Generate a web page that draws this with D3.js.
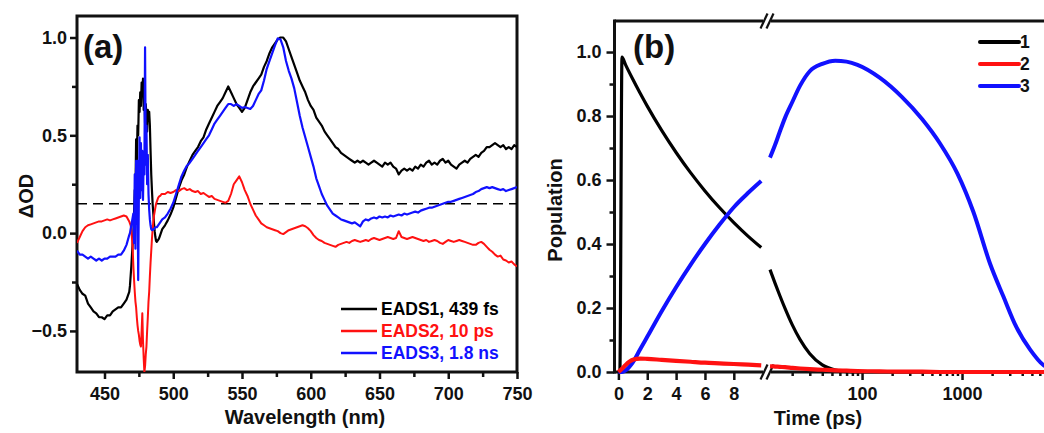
<!DOCTYPE html>
<html>
<head>
<meta charset="utf-8">
<script src="https://cdn.jsdelivr.net/npm/d3@7"></script>
<style>
  html, body { margin: 0; padding: 0; background: #fff; }
  svg { display: block; }
</style>
</head>
<body>
<svg id="chart" width="1044" height="433"></svg>
<script>
// ---------------- Panel (a): evolution-associated difference spectra ----------------
const wavelengths = [
  430,432,434,436,438,440,442,444,446,448,
  450,452,454,456,458,460,462,464,466,468,
  468.5,469,469.5,470,470.5,471,471.5,472,472.5,473,
  473.5,474,474.5,475,475.5,476,476.5,477,477.5,478,
  478.5,479,479.5,480,480.5,481,481.5,482,482.5,483,
  483.5,484,484.5,485,485.5,486,486.5,487,487.5,488,
  488.5,489,489.5,490,490.5,491,491.5,492,
  494,496,498,500,502,504,506,508,510,512,
  514,516,518,520,522,524,526,528,530,532,
  534,536,538,540,542,544,546,548,550,552,
  554,556,558,560,562,564,566,568,570,572,
  574,576,578,580,582,584,586,588,590,592,
  594,596,598,600,602,604,606,608,610,612,
  614,616,618,620,622,624,626,628,630,632,
  634,636,638,640,642,644,646,648,650,652,
  654,656,658,660,662,664,666,668,670,672,
  674,676,678,680,682,684,686,688,690,692,
  694,696,698,700,702,704,706,708,710,712,
  714,716,718,720,722,724,726,728,730,732,
  734,736,738,740,742,744,746,748,750
];

const eads1 = [
  -0.26,-0.29,-0.31,-0.32,-0.36,-0.38,-0.40,-0.41,-0.43,-0.43,
  -0.44,-0.42,-0.42,-0.40,-0.39,-0.38,-0.38,-0.36,-0.34,-0.30,
  -0.27,-0.22,-0.17,-0.11,-0.05,0.00,0.10,0.22,0.20,0.48,
  0.36,0.55,0.50,0.68,0.62,0.72,0.65,0.77,0.70,0.79,
  0.63,0.70,0.56,0.66,0.60,0.52,0.63,0.60,0.62,0.55,
  0.42,0.30,0.22,0.15,0.10,0.05,0.01,-0.02,-0.04,-0.045,
  -0.04,-0.035,-0.03,-0.02,-0.01,0.00,0.01,0.02,
  0.04,0.065,0.095,0.13,0.18,0.23,0.27,0.30,0.34,0.37,
  0.40,0.42,0.44,0.47,0.49,0.53,0.56,0.59,0.62,0.65,
  0.67,0.69,0.72,0.75,0.72,0.69,0.66,0.64,0.62,0.64,
  0.68,0.72,0.75,0.77,0.79,0.81,0.85,0.88,0.92,0.95,
  0.97,0.99,1.00,1.00,0.98,0.94,0.90,0.86,0.82,0.78,
  0.75,0.72,0.68,0.65,0.63,0.59,0.57,0.55,0.52,0.50,
  0.48,0.46,0.44,0.43,0.41,0.40,0.39,0.38,0.37,0.36,
  0.37,0.36,0.37,0.36,0.35,0.36,0.37,0.36,0.35,0.34,
  0.36,0.35,0.36,0.34,0.33,0.30,0.32,0.33,0.32,0.33,
  0.32,0.34,0.33,0.35,0.34,0.36,0.37,0.35,0.36,0.35,
  0.37,0.38,0.36,0.37,0.35,0.34,0.33,0.35,0.36,0.37,
  0.36,0.38,0.39,0.40,0.39,0.41,0.42,0.44,0.44,0.45,
  0.46,0.45,0.44,0.45,0.43,0.44,0.43,0.45,0.44
];

const eads2 = [
  -0.05,-0.02,0.01,0.03,0.04,0.045,0.05,0.055,0.06,0.06,
  0.065,0.07,0.065,0.07,0.075,0.08,0.085,0.09,0.085,0.06,
  0.05,0.04,0.02,-0.03,-0.08,-0.17,-0.24,-0.30,-0.35,-0.38,
  -0.43,-0.47,-0.50,-0.52,-0.55,-0.57,-0.58,-0.50,-0.41,-0.55,
  -0.64,-0.71,-0.68,-0.62,-0.58,-0.50,-0.43,-0.35,-0.30,-0.22,
  -0.15,-0.09,-0.03,0.02,0.06,0.09,0.11,0.13,0.15,0.16,
  0.17,0.18,0.185,0.19,0.19,0.195,0.20,0.20,
  0.20,0.21,0.205,0.21,0.22,0.215,0.225,0.23,0.22,0.225,
  0.215,0.21,0.215,0.20,0.205,0.195,0.185,0.19,0.175,0.17,
  0.165,0.16,0.155,0.165,0.20,0.25,0.27,0.29,0.26,0.22,
  0.19,0.15,0.12,0.09,0.07,0.05,0.04,0.03,0.025,0.02,
  0.015,0.01,0.00,-0.005,0.005,0.015,0.02,0.025,0.03,0.035,
  0.04,0.035,0.025,0.01,-0.01,-0.025,-0.035,-0.04,-0.05,-0.055,
  -0.06,-0.065,-0.07,-0.06,-0.055,-0.05,-0.045,-0.05,-0.04,-0.035,
  -0.04,-0.045,-0.04,-0.035,-0.04,-0.03,-0.025,-0.03,-0.035,-0.03,
  -0.025,-0.02,-0.025,-0.03,-0.025,0.01,-0.02,-0.025,-0.03,-0.025,
  -0.02,-0.025,-0.03,-0.035,-0.04,-0.035,-0.045,-0.04,-0.035,-0.04,
  -0.05,-0.055,-0.045,-0.035,-0.04,-0.045,-0.04,-0.035,-0.04,-0.045,
  -0.05,-0.055,-0.06,-0.06,-0.05,-0.045,-0.055,-0.07,-0.085,-0.095,
  -0.11,-0.12,-0.115,-0.135,-0.14,-0.15,-0.145,-0.16,-0.17
];

const eads3 = [
  -0.09,-0.11,-0.11,-0.12,-0.13,-0.12,-0.13,-0.14,-0.13,-0.14,
  -0.13,-0.13,-0.12,-0.12,-0.12,-0.11,-0.11,-0.09,-0.06,-0.01,
  0.00,0.02,0.04,0.06,0.08,0.10,-0.05,0.30,-0.08,0.37,
  0.05,0.37,-0.24,0.20,0.49,0.18,0.46,0.22,0.42,0.17,
  0.40,0.30,0.95,0.35,0.55,0.25,0.40,0.20,0.12,0.07,
  0.04,0.02,0.015,0.015,0.02,0.02,0.025,0.03,0.03,0.03,
  0.035,0.04,0.045,0.05,0.055,0.06,0.065,0.07,
  0.08,0.10,0.125,0.155,0.20,0.245,0.29,0.32,0.345,0.36,
  0.38,0.40,0.42,0.44,0.46,0.48,0.50,0.53,0.56,0.58,
  0.60,0.62,0.64,0.66,0.66,0.65,0.66,0.65,0.64,0.645,
  0.64,0.635,0.65,0.68,0.71,0.73,0.78,0.84,0.88,0.92,
  0.96,0.995,0.99,0.95,0.88,0.83,0.79,0.74,0.67,0.60,
  0.54,0.49,0.44,0.39,0.34,0.28,0.24,0.20,0.17,0.14,
  0.12,0.10,0.09,0.08,0.07,0.065,0.06,0.055,0.05,0.055,
  0.045,0.035,0.06,0.07,0.065,0.075,0.08,0.075,0.085,0.08,
  0.085,0.08,0.09,0.085,0.09,0.095,0.09,0.10,0.095,0.10,
  0.105,0.11,0.105,0.115,0.12,0.125,0.13,0.13,0.135,0.14,
  0.145,0.15,0.155,0.16,0.16,0.165,0.17,0.175,0.18,0.185,
  0.19,0.195,0.20,0.21,0.215,0.225,0.23,0.235,0.23,0.235,
  0.23,0.225,0.22,0.225,0.215,0.22,0.225,0.23,0.235
];

const spectraNames = ["EADS1, 439 fs", "EADS2, 10 ps", "EADS3, 1.8 ns"];
const dashedLevel = 0.15;
const wlTicks = [450, 500, 550, 600, 650, 700, 750];
const wlMinorTicks = [475, 525, 575, 625, 675, 725];
const odTicks = [-0.5, 0.0, 0.5, 1.0];
const odMinorTicks = [-0.25, 0.25, 0.75];

// ---------------- Panel (b): population kinetics ----------------
const timeEarly = [0, 0.1, 0.25, 0.5, 1, 1.5, 2, 3, 4, 5, 6, 7, 8, 9, 9.9];
const pop1Early = [0, 0, 0.984, 0.96, 0.915, 0.872, 0.831, 0.755, 0.686, 0.623, 0.566, 0.514, 0.467, 0.424, 0.389];
const pop2Early = [0, 0.004, 0.01, 0.022, 0.038, 0.042, 0.041, 0.038, 0.035, 0.032, 0.029, 0.027, 0.025, 0.023, 0.021];
const pop3Early = [0, 0, 0, 0.005, 0.03, 0.07, 0.11, 0.19, 0.265, 0.335, 0.40, 0.46, 0.515, 0.56, 0.597];

const timeLate = [12, 13.5, 15, 17, 20, 24, 30, 40, 54, 70, 90, 150, 250, 400, 600, 900, 1300, 1900, 2600, 3500, 4800, 6500, 8000];
const pop1Late = [0.32, 0.277, 0.24, 0.198, 0.148, 0.101, 0.057, 0.022, 0.006, 0.001, 0, 0, 0, 0, 0, 0, 0, 0, 0, 0, 0, 0, 0];
const pop2Late = [0.018, 0.017, 0.016, 0.015, 0.013, 0.011, 0.009, 0.007, 0.005, 0.004, 0.003, 0.002, 0.001, 0.001, 0, 0, 0, 0, 0, 0, 0, 0, 0];
const pop3Late = [0.67, 0.71, 0.75, 0.795, 0.843, 0.895, 0.94, 0.963, 0.973, 0.97, 0.96, 0.92, 0.86, 0.79, 0.715, 0.62, 0.50, 0.34, 0.235, 0.14, 0.07, 0.022, 0.008];

const popNames = ["1", "2", "3"];
const popTicks = [0, 0.2, 0.4, 0.6, 0.8, 1.0];
const popMinorTicks = [0.1, 0.3, 0.5, 0.7, 0.9];
const earlyTicks = [0, 2, 4, 6, 8];
const lateTicks = [100, 1000];
const lateMinorTicks = [20,30,40,50,60,70,80,90,200,300,400,500,600,700,800,900,2000,3000,4000,5000,6000,7000,8000,9000];

// ---------------- shared styling ----------------
const FONT = "'Liberation Sans', Arial, Helvetica, sans-serif";
const INK = "#111";
const COLORS = ["#000000", "#ff1111", "#1111ff"];

const svg = d3.select("#chart");

function styleAxis(g, size) {
  g.attr("font-family", FONT).attr("font-size", size).attr("font-weight", "bold");
  g.select(".domain").remove();
  g.selectAll(".tick line").attr("stroke", INK).attr("stroke-width", 2.5);
  g.selectAll(".tick text").attr("fill", INK);
}

function addText(parent, txt, x, y, size, opts = {}) {
  const t = parent.append("text")
    .attr("font-family", FONT).attr("font-weight", "bold")
    .attr("font-size", size).attr("fill", opts.fill || INK)
    .attr("text-anchor", opts.anchor || "start")
    .text(txt);
  if (opts.rotate) t.attr("transform", `translate(${x},${y}) rotate(-90)`);
  else t.attr("x", x).attr("y", y);
  return t;
}

// ================= Panel (a) =================
const wlDomain = [430, 750];
const odDomain = [-0.71, 1.11];
const xA = d3.scaleLinear().domain(wlDomain).range([77, 517]);
const yA = d3.scaleLinear().domain(odDomain).range([372, 16]);
const gA = svg.append("g");

gA.append("clipPath").attr("id", "clip-a").append("rect")
  .attr("x", xA.range()[0]).attr("y", yA.range()[1])
  .attr("width", xA.range()[1] - xA.range()[0])
  .attr("height", yA.range()[0] - yA.range()[1]);

// axes (a)
const axA = gA.append("g").attr("transform", `translate(0,${yA.range()[0]})`)
  .call(d3.axisBottom(xA).tickValues(wlTicks).tickFormat(d3.format("d")).tickSize(7).tickPadding(8));
styleAxis(axA, 18);
const axAm = gA.append("g").attr("transform", `translate(0,${yA.range()[0]})`)
  .call(d3.axisBottom(xA).tickValues(wlMinorTicks).tickFormat("").tickSize(5));
styleAxis(axAm, 18);
const ayA = gA.append("g").attr("transform", `translate(${xA.range()[0]},0)`)
  .call(d3.axisLeft(yA).tickValues(odTicks).tickFormat(d3.format(".1f")).tickSize(7).tickPadding(3));
styleAxis(ayA, 18);
const ayAm = gA.append("g").attr("transform", `translate(${xA.range()[0]},0)`)
  .call(d3.axisLeft(yA).tickValues(odMinorTicks).tickFormat("").tickSize(5));
styleAxis(ayAm, 18);

gA.append("rect")
  .attr("x", xA.range()[0]).attr("y", yA.range()[1])
  .attr("width", xA.range()[1] - xA.range()[0])
  .attr("height", yA.range()[0] - yA.range()[1])
  .attr("fill", "none").attr("stroke", INK).attr("stroke-width", 3);

// dashed reference level
gA.append("line")
  .attr("x1", xA(wlDomain[0])).attr("x2", xA(wlDomain[1]))
  .attr("y1", yA(dashedLevel)).attr("y2", yA(dashedLevel))
  .attr("stroke", "#000").attr("stroke-width", 1.6).attr("stroke-dasharray", "10,6");

// spectra
const lineA = d3.line().x((d, i) => xA(wavelengths[i])).y(d => yA(d));
const spectra = [eads1, eads2, eads3];
const widthsA = [2.2, 2.0, 2.2];
const plotA = gA.append("g").attr("clip-path", "url(#clip-a)");
spectra.forEach((s, k) => {
  plotA.append("path").datum(s)
    .attr("fill", "none").attr("stroke", COLORS[k])
    .attr("stroke-width", widthsA[k]).attr("stroke-linejoin", "round")
    .attr("d", lineA);
});

// legend (a)
const legA = gA.append("g");
spectraNames.forEach((name, k) => {
  const y = 309 + k * 22;
  legA.append("line").attr("x1", 341).attr("x2", 377).attr("y1", y).attr("y2", y)
    .attr("stroke", COLORS[k]).attr("stroke-width", 2.4);
  addText(legA, name, 381, y + 6.3, 17.5, { fill: COLORS[k] });
});

addText(gA, "(a)", 83, 58, 33);
addText(gA, "Wavelength (nm)", 305, 424, 20, { anchor: "middle" });
addText(gA, "\u0394OD", 33, 196, 20, { anchor: "middle", rotate: true });

// ================= Panel (b) =================
const earlyDomain = [-0.27, 10.3];
const lateDomain = [11.2, 10000];
const popDomain = [0, 1.097];
const xEarly = d3.scaleLinear().domain(earlyDomain).range([614.5, 767]);
const xLate = d3.scaleLog().domain(lateDomain).range([767, 1062]);
const yB = d3.scaleLinear().domain(popDomain).range([372, 21]);
const gB = svg.append("g");

const bLeft = xEarly.range()[0], bBreak = xEarly.range()[1];
const bTop = yB.range()[1], bBottom = yB.range()[0];
const gap = 4;

// axes (b)
const axE = gB.append("g").attr("transform", `translate(0,${bBottom})`)
  .call(d3.axisBottom(xEarly).tickValues(earlyTicks).tickFormat(d3.format("d")).tickSize(8).tickPadding(7));
styleAxis(axE, 18);
const axL = gB.append("g").attr("transform", `translate(0,${bBottom})`)
  .call(d3.axisBottom(xLate).tickValues(lateTicks).tickFormat(d3.format("d")).tickSize(8).tickPadding(7));
styleAxis(axL, 18);
const axLm = gB.append("g").attr("transform", `translate(0,${bBottom})`)
  .call(d3.axisBottom(xLate).tickValues(lateMinorTicks).tickFormat("").tickSize(4));
styleAxis(axLm, 18);
const ayB = gB.append("g").attr("transform", `translate(${bLeft},0)`)
  .call(d3.axisLeft(yB).tickValues(popTicks).tickFormat(d3.format(".1f")).tickSize(8).tickPadding(5));
styleAxis(ayB, 18);
const ayBm = gB.append("g").attr("transform", `translate(${bLeft},0)`)
  .call(d3.axisLeft(yB).tickValues(popMinorTicks).tickFormat("").tickSize(5));
styleAxis(ayBm, 18);

// frame lines with axis break
const frame = gB.append("g").attr("stroke", INK).attr("stroke-width", 3).attr("fill", "none");
frame.append("line").attr("x1", bLeft).attr("x2", bLeft).attr("y1", bTop - 1.5).attr("y2", bBottom + 1.5);
[bTop, bBottom].forEach(y => {
  frame.append("line").attr("x1", bLeft).attr("x2", bBreak - gap).attr("y1", y).attr("y2", y);
  frame.append("line").attr("x1", bBreak + gap).attr("x2", 1050).attr("y1", y).attr("y2", y);
  // "//" break marks
  [-3, 3].forEach(dx => {
    frame.append("line")
      .attr("x1", bBreak + dx - 3.5).attr("y1", y + 7.5)
      .attr("x2", bBreak + dx + 3.5).attr("y2", y - 7.5)
      .attr("stroke-width", 2.2);
  });
});

// population curves
const lineEarly = d3.line().curve(d3.curveMonotoneX).x((d, i) => xEarly(timeEarly[i])).y(d => yB(d));
const lineLate = d3.line().curve(d3.curveMonotoneX).x((d, i) => xLate(timeLate[i])).y(d => yB(d));
const earlySets = [pop1Early, pop2Early, pop3Early];
const lateSets = [pop1Late, pop2Late, pop3Late];
const widthsB = [3.2, 4.2, 4.0];
[0, 2, 1].forEach(k => {
  gB.append("path").datum(earlySets[k])
    .attr("fill", "none").attr("stroke", COLORS[k]).attr("stroke-width", widthsB[k])
    .attr("stroke-linejoin", "round").attr("d", lineEarly);
  gB.append("path").datum(lateSets[k])
    .attr("fill", "none").attr("stroke", COLORS[k]).attr("stroke-width", widthsB[k])
    .attr("stroke-linejoin", "round").attr("d", lineLate);
});

// legend (b)
const legB = gB.append("g");
popNames.forEach((name, k) => {
  const y = 42 + k * 22;
  legB.append("line").attr("x1", 980).attr("x2", 1019).attr("y1", y).attr("y2", y)
    .attr("stroke", COLORS[k]).attr("stroke-width", 4).attr("stroke-linecap", "round");
  addText(legB, name, 1020, y + 6.3, 17.5);
});

addText(gB, "(b)", 633, 58, 33);
addText(gB, "Time (ps)", 818, 425, 20, { anchor: "middle" });
addText(gB, "Population", 562, 210, 20, { anchor: "middle", rotate: true });
</script>
</body>
</html>
